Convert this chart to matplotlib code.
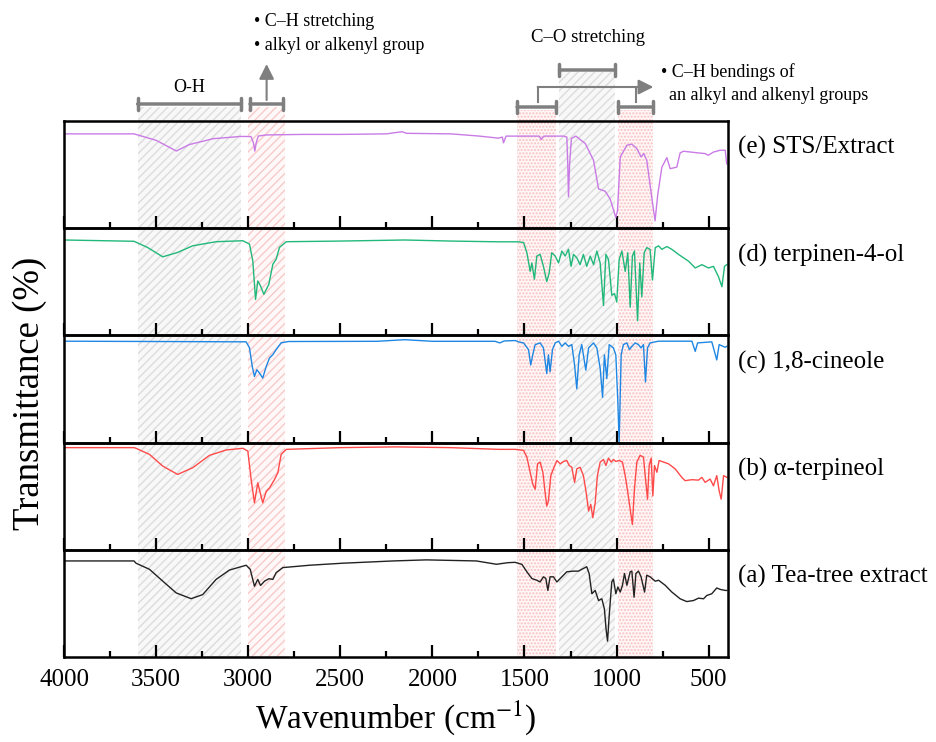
import matplotlib
matplotlib.use("Agg")
import matplotlib.pyplot as plt

plt.rcParams['font.family'] = ['Liberation Serif', 'DejaVu Serif']
plt.rcParams['mathtext.fontset'] = 'stix'
plt.rcParams['hatch.linewidth'] = 1.0

# (e) STS/Extract
e_wn = [4000, 3620, 3500, 3390, 3320, 3190, 3040, 2985, 2972, 2964, 2956, 2945, 2900, 2700, 2500,
        2250, 2165, 2140, 1900, 1750, 1641, 1620, 1614, 1600, 1420, 1409, 1395, 1288, 1270, 1265,
        1261, 1255, 1245, 1221, 1170, 1125, 1098, 1062, 1035, 1004, 995, 980, 944, 917, 890, 867,
        852, 836, 809, 791, 776, 754, 727, 709, 673, 655, 637, 555, 519, 502, 474, 438, 410, 402]
e_t = [88, 88, 82, 72, 78, 83.5, 85.6, 85.5, 80, 72, 80, 86, 87, 87.5, 87.5,
       88, 90, 88.5, 88, 86, 84, 85, 79.6, 85.9, 85.9, 82.8, 85.9, 85.9, 85, 60,
       29.5, 60, 83.7, 85.9, 79, 63.3, 36.7, 34.5, 27.3, 10, 16.3, 66.5, 77.4, 78.4, 74.3, 66.5,
       69.6, 63.3, 28.8, 6.9, 32, 57, 65.8, 55.5, 57, 70.2, 71.8, 70.2, 69.6, 68, 71, 72.7, 72.7, 60]

# (d) terpinen-4-ol
d_wn = [4000, 3620, 3546, 3464, 3383, 3301, 3174, 3029, 2993, 2975, 2960, 2948, 2933, 2915, 2888,
        2866, 2848, 2830, 2793, 2500, 2150, 1900, 1641, 1533, 1505, 1487, 1469, 1460, 1446, 1433,
        1415, 1397, 1379, 1366, 1352, 1333, 1315, 1297, 1279, 1261, 1247, 1234, 1216, 1198, 1180,
        1162, 1143, 1125, 1107, 1089, 1071, 1058, 1044, 1026, 1011, 999, 986, 971, 953, 939, 926,
        914, 903, 886, 874, 863, 850, 836, 818, 805, 790, 772, 754, 727, 700, 664, 609, 573, 537,
        501, 474, 447, 428, 414, 402]
d_t = [89, 87.8, 82, 73.3, 77.4, 83.6, 87.4, 88.3, 85.2, 69.5, 33.5, 50.8, 46.1, 38.3, 47.6,
       66.4, 71.1, 82.1, 87.4, 88, 89, 88, 87.3, 87.3, 86.7, 77.1, 59.7, 67.6, 52.4, 74,
       75.6, 64.4, 50.2, 58.1, 77.1, 74, 67.6, 78.7, 74, 80.3, 64.4, 75.6, 72.4, 66, 75.6,
       64.4, 74, 66, 78.7, 67.6, 27.9, 75.6, 70.8, 37.5, 39, 31.1, 70.8, 78.7, 59.7, 77.1, 26.3,
       74, 78.7, 13.7, 67.6, 35.9, 77.1, 81.9, 80.3, 51.7, 81.9, 83.5, 80.3, 82.9, 80.3, 75.6, 69.2, 62.9, 66,
       62.9, 64.4, 54.9, 45.4, 64.4, 66]

# (c) 1,8-cineole
c_wn = [4000, 3011, 2993, 2978, 2966, 2953, 2939, 2921, 2902, 2884, 2866, 2848, 2821, 2780, 2300,
        2150, 2000, 1660, 1634, 1610, 1550, 1533, 1505, 1478, 1466, 1455, 1442, 1415, 1397, 1379,
        1370, 1361, 1348, 1333, 1315, 1297, 1279, 1261, 1243, 1228, 1216, 1203, 1189, 1167, 1152,
        1125, 1107, 1089, 1076, 1066, 1053, 1040, 1017, 1004, 993, 986, 975, 963, 944, 930, 917,
        899, 881, 867, 854, 843, 832, 818, 772, 591, 573, 560, 483, 456, 443, 410, 402]
c_t = [94.6, 94, 88.4, 71.1, 61.7, 68, 64.9, 60.2, 71.1, 79, 82.1, 86.8, 93.1, 94.3, 94.5,
       96, 94.5, 94.5, 93, 94.8, 95.2, 94, 93, 86.7, 72.4, 81.9, 91.4, 93, 88.3, 64.4,
       81.9, 66, 86.7, 93, 94.6, 89.8, 93, 89.8, 91.4, 72.4, 50.2, 81.9, 91.4, 67.6, 88.3,
       93, 88.3, 69.2, 42.2, 81.9, 59.7, 91.4, 88.3, 81.9, 37.5, 0.5, 81.9, 91.4, 93, 86.7, 89.8,
       93, 91.4, 88.3, 91.4, 56.5, 88.3, 93, 94.6, 94.6, 85.1, 93, 94, 77.1, 91.4, 88.9, 89.8]

# (b) alpha-terpineol
b_wn = [4000, 3620, 3609, 3536, 3464, 3383, 3301, 3210, 3120, 3029, 3002, 2984, 2966, 2948, 2939,
        2921, 2902, 2884, 2857, 2839, 2821, 2793, 2500, 2200, 1900, 1641, 1550, 1505, 1487, 1469,
        1455, 1442, 1429, 1415, 1400, 1388, 1379, 1370, 1357, 1343, 1324, 1306, 1288, 1270, 1257,
        1243, 1228, 1216, 1198, 1180, 1165, 1152, 1140, 1129, 1116, 1104, 1089, 1071, 1058, 1044,
        1029, 1017, 1004, 986, 968, 953, 939, 926, 914, 903, 890, 872, 854, 841, 832, 823, 812,
        803, 794, 781, 769, 754, 718, 682, 646, 628, 591, 555, 537, 519, 492, 474, 456, 443, 432,
        419, 401]
b_t = [95.3, 95.3, 94.7, 89, 78.1, 70.3, 76.6, 88.1, 93.1, 94.7, 92.1, 65.6, 43.8, 62.5, 56.2,
       43.8, 54.6, 57.8, 65.6, 71.9, 89, 93.7, 95.3, 96, 95.3, 93.7, 93.7, 92.8, 86.5, 72.3,
       61.3, 56.6, 80.2, 81.8, 72.3, 53.5, 40.9, 45.6, 69.2, 75.5, 83.3, 80.2, 82.4, 83.3, 78.6,
       77, 62.9, 75.5, 77, 69.2, 53.5, 36.2, 42.5, 29.9, 44, 69.2, 81.8, 84.3, 78.6, 85.5,
       81.8, 84.3, 82.4, 83.3, 81.8, 69.2, 53.5, 37.7, 23.6, 56.6, 81.8, 88.1, 86.5, 62.9, 47.2, 78.6, 85.5,
       50.3, 78.6, 72.3, 83.3, 82.4, 80.2, 75.5, 67.6, 64.5, 65.4, 65, 67.6, 62.9, 66, 59.7, 69.2, 55, 47.2,
       69.2, 67.6]

# (a) Tea-tree extract
a_wn = [4000, 3620, 3609, 3536, 3464, 3391, 3310, 3247, 3174, 3102, 3011, 2989, 2966, 2948, 2933,
        2911, 2888, 2866, 2848, 2812, 2667, 2486, 2214, 2033, 1761, 1652, 1589, 1551, 1514, 1487,
        1460, 1433, 1415, 1397, 1384, 1373, 1361, 1343, 1324, 1297, 1270, 1234, 1207, 1180, 1162,
        1149, 1134, 1116, 1098, 1080, 1066, 1057, 1049, 1040, 1026, 1017, 1004, 993, 980, 968, 957,
        944, 926, 917, 905, 895, 881, 867, 848, 836, 818, 790, 772, 736, 700, 655, 619, 582, 555,
        528, 510, 483, 456, 438, 410, 402]
a_t = [89.6, 89.6, 87.5, 81.8, 70.8, 59.8, 54.4, 58.2, 72.4, 81.1, 85.6, 81.8, 66, 72.4, 66.7,
       70.8, 73, 72.4, 78.7, 83.4, 85.6, 87.5, 89.6, 90.6, 89.6, 86.5, 88, 88.3, 86.4, 79.5,
       73.2, 71.6, 70, 74.8, 73.2, 62.1, 74.8, 74.8, 70, 74.8, 79.5, 80.1, 80.1, 82.6, 84.2,
       77.9, 59, 62.1, 52.7, 54.3, 44.8, 25.9, 14.8, 38.5, 70, 72.6, 59, 65.3, 60.6, 66.9, 77.9,
       66.9, 79.5, 80.1, 55.8, 77.9, 80.1, 74.8, 60.6, 76.3, 74.8, 70.7, 71.6, 66.9, 60.6, 54.3, 51.7, 52.7, 54.9,
       54.3, 57.4, 59, 64.4, 63.1, 62.1, 62.1]

spectra = [
    (e_wn, e_t, "#c97be6", "(e) STS/Extract"),
    (d_wn, d_t, "#21b87a", "(d) terpinen-4-ol"),
    (c_wn, c_t, "#1f87e3", "(c) 1,8-cineole"),
    (b_wn, b_t, "#ff4a4a", "(b) \u03b1-terpineol"),
    (a_wn, a_t, "#222222", "(a) Tea-tree extract"),
]

# band regions: (high wn, low wn, kind, top pixel)
bands = [(3600, 3040, "gray", 107), (3000, 2800, "redhatch", 107), (1540, 1330, "reddots", 110),
         (1310, 1010, "gray", 72), (990, 800, "reddots", 110)]

W, H = 937, 742
L, R, T, B = 64, 728, 121, 657

fig = plt.figure(figsize=(W / 100, H / 100), dpi=100)

# background layer for the bands and annotations (pixel y coordinates)
bg = fig.add_axes([L / W, 0, (R - L) / W, 1], zorder=0)
bg.set_xlim(4000, 395)
bg.set_ylim(H, 0)
bg.axis("off")

for hi, lo, kind, top in bands:
    if kind == "gray":
        fc, ec, hatch = "#f8f8f8", "#dcdcdc", "////"
    elif kind == "redhatch":
        fc, ec, hatch = "#fff8f8", "#f7caca", "////"
    else:
        fc, ec, hatch = "#fff7f7", "#f8c0c0", "....."
    bg.fill_between([hi, lo], [B, B], [top, top], facecolor=fc, edgecolor=ec,
                    hatch=hatch, linewidth=0)

gc = "#7f7f7f"
def bracket(x1, x2, y):
    bg.annotate("", xy=(x2, y), xytext=(x1, y),
                arrowprops=dict(arrowstyle="|-|,widthA=0.4,widthB=0.4", color=gc, lw=2.5,
                                shrinkA=0, shrinkB=0))

bracket(3600, 3040, 104)
bracket(2990, 2810, 104)
bracket(1310, 1010, 70)
bracket(1540, 1330, 107)
bracket(990, 800, 107)

# C-H stretching arrow
bg.annotate("", xy=(2900, 64), xytext=(2900, 100),
            arrowprops=dict(arrowstyle="-|>,head_length=0.9,head_width=0.45", color=gc, lw=1.5,
                            shrinkA=0, shrinkB=0))
# C-H bending arrow
bg.plot([1428, 1428], [102, 87], color=gc, lw=1.5)
bg.plot([895, 895], [102, 87], color=gc, lw=1.5)
bg.annotate("", xy=(800, 87), xytext=(1428, 87),
            arrowprops=dict(arrowstyle="-|>,head_length=0.9,head_width=0.45", color=gc, lw=1.5,
                            shrinkA=0, shrinkB=0))

bg.text(3320, 87, "O-H", fontsize=13, ha="center", va="center")
bg.text(2966, 22, "\u2022 C\u2013H stretching", fontsize=13, ha="left", va="center")
bg.text(2966, 45, "\u2022 alkyl or alkenyl group", fontsize=13, ha="left", va="center")
bg.text(1155, 38, "C\u2013O stretching", fontsize=13.5, ha="center", va="center")
bg.text(760, 72, "\u2022 C\u2013H bendings of", fontsize=13, ha="left", va="center")
bg.text(715, 95, "an alkyl and alkenyl groups", fontsize=13, ha="left", va="center")

n = len(spectra)
ph = (B - T) / n
axes = []
for i, (wn, t, col, lab) in enumerate(spectra):
    top = T + i * ph
    ax = fig.add_axes([L / W, 1 - (top + ph) / H, (R - L) / W, ph / H], zorder=1)
    ax.patch.set_alpha(0)
    ax.plot(wn, t, color=col, lw=1.0)
    ax.set_xlim(4000, 395)
    ax.set_ylim(0, 100)
    ax.set_yticks([])
    ax.set_xticks([4000, 3500, 3000, 2500, 2000, 1500, 1000, 500])
    ax.set_xticks([3750, 3250, 2750, 2250, 1750, 1250, 750], minor=True)
    ax.tick_params(axis="x", which="major", direction="in", length=8.5, width=1.6,
                   labelsize=18, pad=9)
    ax.tick_params(axis="x", which="minor", direction="in", length=4.5, width=1.6)
    for s in ax.spines.values():
        s.set_linewidth(1.8)
    if i < n - 1:
        ax.tick_params(axis="x", labelbottom=False)
    ax.text(1.015, 0.75, lab, transform=ax.transAxes, fontsize=18, ha="left", va="center")
    axes.append(ax)

axes[-1].set_xlabel("Wavenumber (cm$^{\u22121}$)", fontsize=24, labelpad=5)
fig.text(30 / W, 1 - 393 / H, "Transmittance (%)", rotation=90, fontsize=26.5,
         ha="center", va="center")

fig.savefig("out.png", dpi=100)
